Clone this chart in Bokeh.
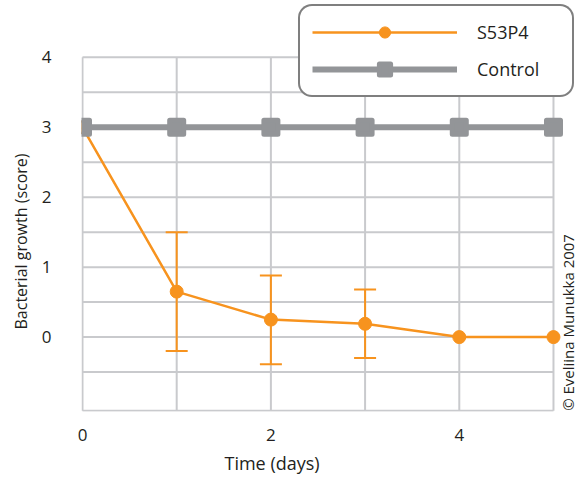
from math import pi
from bokeh.plotting import figure
from bokeh.models import (ColumnDataSource, Legend, LegendItem, FixedTicker, Label,
                          Title)
from bokeh.embed import file_html
from bokeh.resources import INLINE

# ---- data ----
days = [0, 1, 2, 3, 4, 5]
s53p4 = [3, 0.65, 0.25, 0.19, 0, 0]
control = [3, 3, 3, 3, 3, 3]
err_days = [1, 2, 3]
err_upper = [1.5, 0.88, 0.68]
err_lower = [-0.2, -0.39, -0.3]

x_tick_labels = [0, 2, 4]
y_tick_labels = [0, 1, 2, 3, 4]
x_grid = [0, 1, 2, 3, 4, 5]
y_grid = [-0.5, 0, 0.5, 1, 1.5, 2, 2.5, 3, 3.5, 4]
X_MIN, X_MAX = 0, 5
Y_MIN, Y_MAX = -1.055, 4

ORANGE = "#F7931E"
GRAY = "#939598"
GRID = "#C9CACD"
TXT = "#231F20"
FONT = "Open Sans"

p = figure(width=577, height=483, x_range=(-0.0106, 5.255), y_range=(-1.064, 4.813),
           output_backend="svg", toolbar_location=None,
           min_border_left=81, min_border_right=0, min_border_top=0,
           min_border_bottom=71)

p.outline_line_color = None
p.grid.visible = False
p.background_fill_color = "white"
p.border_fill_color = "white"

p.xaxis.ticker = FixedTicker(ticks=x_tick_labels)
p.yaxis.ticker = FixedTicker(ticks=y_tick_labels)

for ax in (p.xaxis, p.yaxis):
    ax.axis_line_color = None
    ax.major_tick_line_color = None
    ax.minor_tick_line_color = None
    ax.major_label_text_font = FONT
    ax.major_label_text_font_size = "17px"
    ax.major_label_text_color = TXT
p.xaxis.major_label_standoff = 11
p.yaxis.major_label_standoff = 24

# axis titles (placed as side titles so they can be positioned like the original)
p.add_layout(Title(text="Time (days)", align="left", offset=143,
                   vertical_align="top", standoff=14,
                   text_font=FONT, text_font_size="18px",
                   text_font_style="normal", text_color=TXT), "below")
p.add_layout(Title(text="Bacterial growth (score)", align="left", offset=82,
                   vertical_align="bottom", standoff=14,
                   text_font=FONT, text_font_size="16px",
                   text_font_style="normal", text_color=TXT), "left")

# grid lines drawn from the grid arrays
hy = y_grid + [Y_MIN]
p.segment(x0=[X_MIN] * len(hy), x1=[X_MAX] * len(hy), y0=hy, y1=hy,
          line_color=GRID, line_width=2)
p.segment(x0=x_grid, x1=x_grid, y0=[Y_MIN] * len(x_grid), y1=[Y_MAX] * len(x_grid),
          line_color=GRID, line_width=2)

src = ColumnDataSource(dict(x=days, s=s53p4, c=control))
esrc = ColumnDataSource(dict(x=err_days, up=err_upper, lo=err_lower))

l1 = p.line("x", "s", source=src, line_color=ORANGE, line_width=2.5)
p.segment(x0="x", x1="x", y0="lo", y1="up", source=esrc,
          line_color=ORANGE, line_width=2)
p.scatter("x", "up", source=esrc, marker="dash", size=22,
          line_color=ORANGE, line_width=2)
p.scatter("x", "lo", source=esrc, marker="dash", size=22,
          line_color=ORANGE, line_width=2)
s1 = p.scatter("x", "s", source=src, size=13, color=ORANGE)

l2 = p.line("x", "c", source=src, line_color=GRAY, line_width=6)
s2 = p.scatter("x", "c", source=src, marker="square", size=14,
               fill_color=GRAY, line_color=GRAY, line_width=5,
               line_join="round")

legend = Legend(items=[LegendItem(label="S53P4", renderers=[l1, s1]),
                       LegendItem(label="Control", renderers=[l2, s2])],
                location=(217, 314), border_line_color="black",
                border_line_width=2, glyph_width=145, glyph_height=28,
                label_standoff=20, padding=12, spacing=9,
                label_text_font=FONT, label_text_font_size="18px",
                label_text_color=TXT, label_width=83,
                background_fill_color="white", background_fill_alpha=1)
legend.border_radius = 14
p.add_layout(legend)

p.add_layout(Label(x=5.15, y=Y_MIN, text="© Eveliina Munukka 2007",
                   angle=pi / 2, text_align="left", text_baseline="middle",
                   text_font=FONT, text_font_size="15px", text_color=TXT))

open("out.html", "w").write(file_html(p, INLINE))
